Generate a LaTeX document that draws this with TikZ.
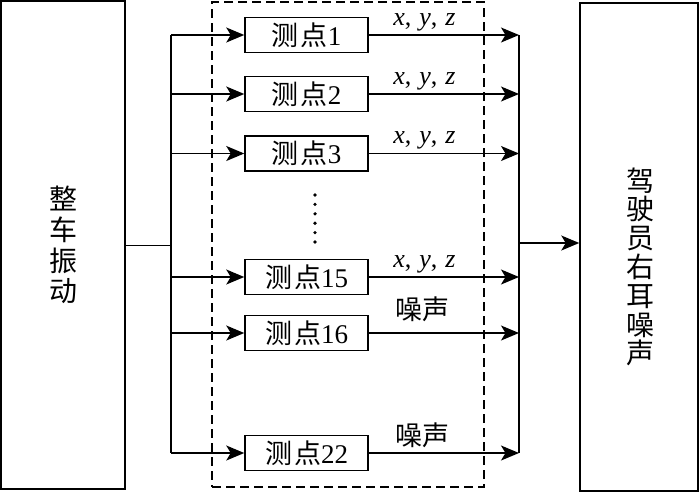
\documentclass[tikz,border=0pt]{standalone}
\usepackage{fontspec}
\setmainfont{Liberation Serif}
\newfontfamily\cjk{Noto Sans CJK SC}
\usetikzlibrary{arrows.meta}
\begin{document}
\begin{tikzpicture}[x=1pt,y=-1pt,line width=1.5pt,
  arr/.style={-{Stealth[length=18pt,width=15pt,inset=4.5pt]}},
  mbox/.style={draw,rectangle,minimum width=123pt,minimum height=35pt,inner sep=0pt,
    font=\fontsize{27}{27}\selectfont},
  bigbox/.style={draw,rectangle,inner sep=0pt},
  lbl/.style={font=\fontsize{26}{26}\selectfont,anchor=base,inner sep=0pt},
  nlbl/.style={font=\cjk\fontsize{27}{27}\selectfont,anchor=base,inner sep=0pt},
  dotm/.style={circle,fill,inner sep=0pt,minimum size=3.6pt}]
\useasboundingbox (0,0) rectangle (700,493);
% left box
\node[bigbox,minimum width=124pt,minimum height=488pt,align=center,
  font=\cjk\fontsize{28}{30.7}\selectfont] (src) at (63,245) {整\\车\\振\\动};
% right box
\node[bigbox,minimum width=118pt,minimum height=488pt] (dst) at (639,247) {};
\node[align=center,inner sep=0pt,font=\cjk\fontsize{28}{28.8}\selectfont] (dsttxt) at (640,267) {驾\\驶\\员\\右\\耳\\噪\\声};
% dashed frame
\node[draw,dashed,dash pattern=on 9pt off 5pt,line width=1.3pt,minimum width=272pt,minimum height=485pt,inner sep=0pt] (frame) at (348,244.5) {};
% measuring points
\node[mbox] (p1) at (306.5,35) {{\cjk 测\hspace{2pt}点}1};
\node[mbox] (p2) at (306.5,94) {{\cjk 测\hspace{2pt}点}2};
\node[mbox] (p3) at (306.5,153.5) {{\cjk 测\hspace{2pt}点}3};
\node[mbox] (p15) at (306.5,277) {{\cjk 测\hspace{2pt}点}15};
\node[mbox] (p16) at (306.5,333) {{\cjk 测\hspace{2pt}点}16};
\node[mbox] (p22) at (306.5,453) {{\cjk 测\hspace{2pt}点}22};
% dots
\foreach \i in {0,...,5} {\node[dotm] (d\i) at (315,195+9.4*\i) {};}
% left bus
\coordinate (lb) at (171,245.7);
\coordinate (lt) at (171,35);
\coordinate (lbot) at (171,453);
\draw (src.east |- lb) -- (lb);
\draw (lt) -- (lbot);
\foreach \p in {p1,p2,p3,p15,p16,p22} {\draw[arr] (lt |- \p.west) -- (\p.west);}
% right bus
\coordinate (rt) at (519,35);
\coordinate (rbot) at (519,453);
\coordinate (rout) at (519,243);
\draw (rt) -- (rbot);
\draw[arr] (p1.east) -- (rt) node[lbl,pos=0.37,yshift=10pt] (l1) {\textit{x},\hspace{8pt}\textit{y},\hspace{8pt}\textit{z}};
\draw[arr] (p2.east) -- (rt |- p2.east) node[lbl,pos=0.37,yshift=10pt] (l2) {\textit{x},\hspace{8pt}\textit{y},\hspace{8pt}\textit{z}};
\draw[arr] (p3.east) -- (rt |- p3.east) node[lbl,pos=0.37,yshift=10pt] (l3) {\textit{x},\hspace{8pt}\textit{y},\hspace{8pt}\textit{z}};
\draw[arr] (p15.east) -- (rt |- p15.east) node[lbl,pos=0.37,yshift=10pt] (l15) {\textit{x},\hspace{8pt}\textit{y},\hspace{8pt}\textit{z}};
\draw[arr] (p16.east) -- (rt |- p16.east) node[nlbl,pos=0.36,yshift=14pt] (l16) {噪声};
\draw[arr] (p22.east) -- (rbot) node[nlbl,pos=0.36,yshift=8pt] (l22) {噪声};
\draw[arr] (rout) -- (dst.west |- rout);
\end{tikzpicture}
\end{document}
